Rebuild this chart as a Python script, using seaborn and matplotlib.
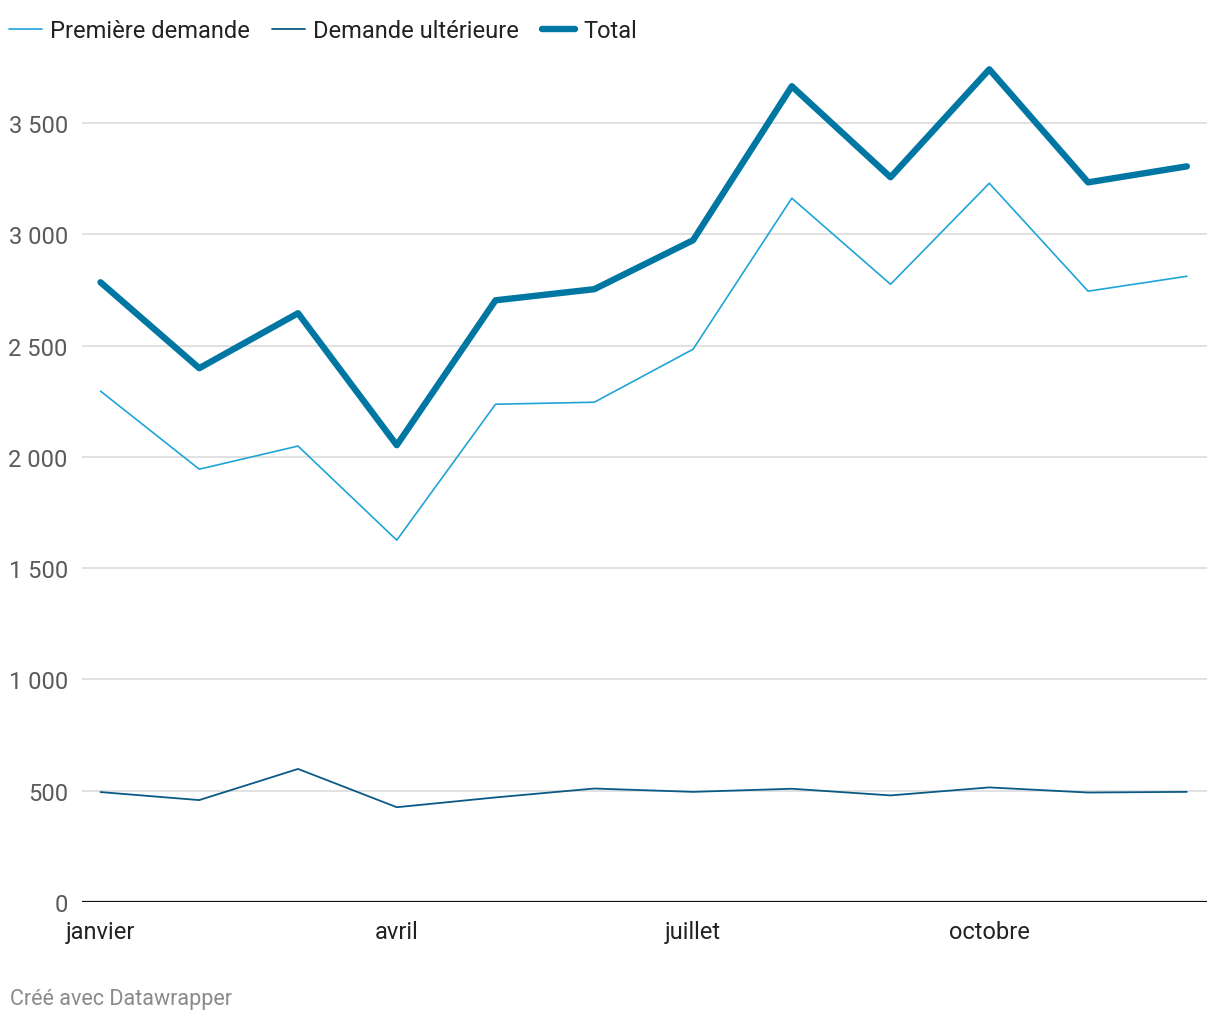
import pandas as pd
import numpy as np
import matplotlib.pyplot as plt
import seaborn as sns

# monthly values
months = ["janvier", "février", "mars", "avril", "mai", "juin",
          "juillet", "août", "septembre", "octobre", "novembre", "décembre"]
premiere = [2296, 1945, 2049, 1626, 2237, 2246, 2484, 3163, 2776, 3230, 2745, 2812]
ulterieure = [494, 458, 598, 426, 470, 510, 495, 509, 479, 515, 492, 495]
total = [2785, 2399, 2646, 2053, 2704, 2754, 2974, 3666, 3257, 3742, 3234, 3306]

series_names = ["Première demande", "Demande ultérieure", "Total"]
y_ticks = [0, 500, 1000, 1500, 2000, 2500, 3000, 3500]
x_ticks = ["janvier", "avril", "juillet", "octobre"]

df = pd.DataFrame({
    "mois": list(range(len(months))) * 3,
    "valeur": premiere + ulterieure + total,
    "serie": [series_names[0]] * 12 + [series_names[1]] * 12 + [series_names[2]] * 12,
})

sns.set_style("white")
plt.rcParams["font.family"] = ["Roboto", "DejaVu Sans"]

fig = plt.figure(figsize=(12.2, 10.2), dpi=100)
ax = fig.add_axes([0.067, 0.1147, 0.922, 0.829])

colors = {"Première demande": "#1fa5d6", "Demande ultérieure": "#0b5a85", "Total": "#0077a3"}
widths = {"Première demande": 1.2, "Demande ultérieure": 1.3, "Total": 4.6}

for name in series_names:
    sub = df[df["serie"] == name]
    sns.lineplot(data=sub, x="mois", y="valeur", ax=ax, color=colors[name],
                 linewidth=widths[name], label=name, solid_joinstyle="round",
                 solid_capstyle="round", zorder=3)

ax.set_xlim(-0.19, 11.2)
ax.set_ylim(0, 3800)

# grid
ax.set_yticks(y_ticks)
ax.set_yticklabels([f"{v:,}".replace(",", " ") for v in y_ticks], color="#5a5a5a", fontsize=17)
for v in y_ticks[1:]:
    ax.axhline(v, color="#d9d9d9", linewidth=1.1, zorder=1)
ax.axhline(0, color="#111111", linewidth=1.6, zorder=4)

ax.set_xticks([months.index(m) for m in x_ticks])
ax.set_xticklabels(x_ticks, fontsize=17, color="#222222")
ax.tick_params(axis="both", length=0)
ax.tick_params(axis="y", pad=10)
ax.tick_params(axis="x", pad=13)
ax.set_xlabel("")
ax.set_ylabel("")
sns.despine(ax=ax, left=True, bottom=True)

ax.get_legend().remove()
handles, labels = ax.get_legend_handles_labels()
fig.legend(handles, labels, loc="upper left", bbox_to_anchor=(0.007, 0.980), ncol=3,
           frameon=False, fontsize=17, handlelength=1.4, handletextpad=0.35,
           columnspacing=0.95, labelcolor="#222222", borderpad=0, borderaxespad=0)

fig.text(0.008, 0.015, "Créé avec Datawrapper", fontsize=15.5, color="#8a8a8a")

fig.savefig("out.png", dpi=100, facecolor="white")
